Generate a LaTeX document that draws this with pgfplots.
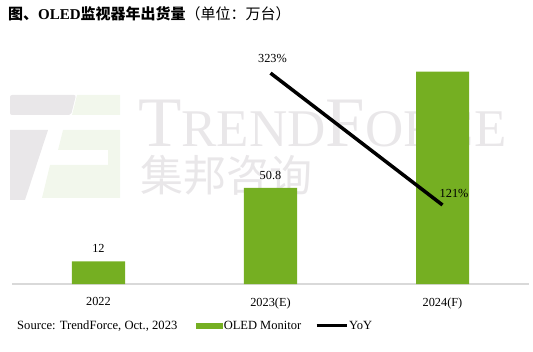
\documentclass[border=0pt]{standalone}
\usepackage{fontspec}
\setmainfont{Liberation Serif}
\newfontfamily\cjk{Noto Sans CJK SC}
\usepackage{pgfplots}
\pgfplotsset{compat=1.18}
\definecolor{barg}{RGB}{117,175,34}
\definecolor{axg}{RGB}{217,217,217}
\definecolor{wmg}{RGB}{233,231,233}
\definecolor{wmgreen}{RGB}{242,247,236}
\newcommand{\lblfont}{\fontsize{12.3}{14}\selectfont}
\begin{document}
\begin{tikzpicture}
\useasboundingbox (0pt,0pt) rectangle (533pt,351pt);
% faint watermark
\fill[wmg,rounded corners=2pt] (10pt,256pt) -- (76pt,256pt) -- (71pt,236pt) -- (10pt,236pt) -- cycle;
\fill[wmg] (10pt,221pt) -- (48pt,221pt) -- (25pt,151pt) -- (10pt,151pt) -- cycle;
\fill[wmgreen] (77pt,256pt) -- (120pt,256pt) -- (120pt,236pt) -- (72pt,236pt) -- cycle;
\fill[wmgreen] (63pt,221pt) -- (120pt,221pt) -- (120pt,153pt) -- (42pt,153pt) -- (50pt,186pt) -- (108pt,186pt) -- (108pt,201pt) -- (58pt,201pt) -- cycle;
\node[anchor=base west, inner sep=0pt, text=wmg] at (138pt,204pt) {\fontsize{71}{71}\selectfont T\fontsize{53}{53}\selectfont REND\fontsize{71}{71}\selectfont F\fontsize{53}{53}\selectfont ORCE};
\node[anchor=west, inner sep=0pt, text=wmg] at (140pt,176pt) {\cjk\fontsize{43}{43}\selectfont 集邦咨询};
% title
\node[anchor=west, inner sep=0pt] at (8pt,337pt) {\fontsize{15}{17}\selectfont\bfseries\cjk 图、\rmfamily OLED\cjk 监视器年出货量\mdseries （单位：万台）};
% source
\node[anchor=west, inner sep=0pt] at (17pt,25pt) {\fontsize{12.6}{14}\selectfont Source: TrendForce, Oct., 2023};
\begin{axis}[
  at={(12.5pt,67pt)}, anchor=south west,
  scale only axis, width=516pt, height=244pt,
  xmin=-0.5, xmax=2.5, ymin=0, ymax=129,
  axis x line*=bottom, axis y line=none,
  x axis line style={-, draw=axg, line width=1.5pt},
  xtick={0,1,2}, xticklabels={2022,2023(E),2024(F)},
  major tick length=0pt,
  xticklabel style={font=\lblfont, yshift=-10pt},
  ybar, bar width=53pt,
  nodes near coords, point meta=explicit symbolic,
  nodes near coords style={font=\lblfont, yshift=5pt},
]
\addplot[fill=barg, draw=none] coordinates {(0,12) [12] (1,50.8) [50.8] (2,112.3) []};
\end{axis}
\begin{axis}[
  at={(12.5pt,67pt)}, anchor=south west,
  scale only axis, width=516pt, height=244pt,
  xmin=-0.5, xmax=2.5, ymin=0, ymax=373.7,
  hide axis, clip=false,
  legend style={at={(0.356,-0.172)}, anchor=west, draw=none, fill=none,
    legend columns=-1, font=\fontsize{12.5}{14}\selectfont, inner sep=0pt,
    nodes={inner sep=1pt},
    /tikz/every even column/.append style={column sep=13pt}},
]
\addlegendimage{legend image code/.code={\fill[barg] (0pt,-2.3pt) rectangle (26pt,2.3pt);}}
\addlegendentry{OLED Monitor}
\addplot[black, line width=3.5pt, mark=none,
  legend image code/.code={\draw[black, line width=3pt] (0pt,0pt) -- (30pt,0pt);}]
  coordinates {(1,323) (2,121)};
\addlegendentry{YoY}
\node[anchor=south, inner sep=0pt, yshift=10pt, xshift=2pt, font=\lblfont] at (axis cs:1,323) {323\%};
\node[anchor=south west, inner sep=0pt, xshift=-3pt, yshift=7pt, font=\lblfont] at (axis cs:2,121) {121\%};
\end{axis}
\end{tikzpicture}
\end{document}
